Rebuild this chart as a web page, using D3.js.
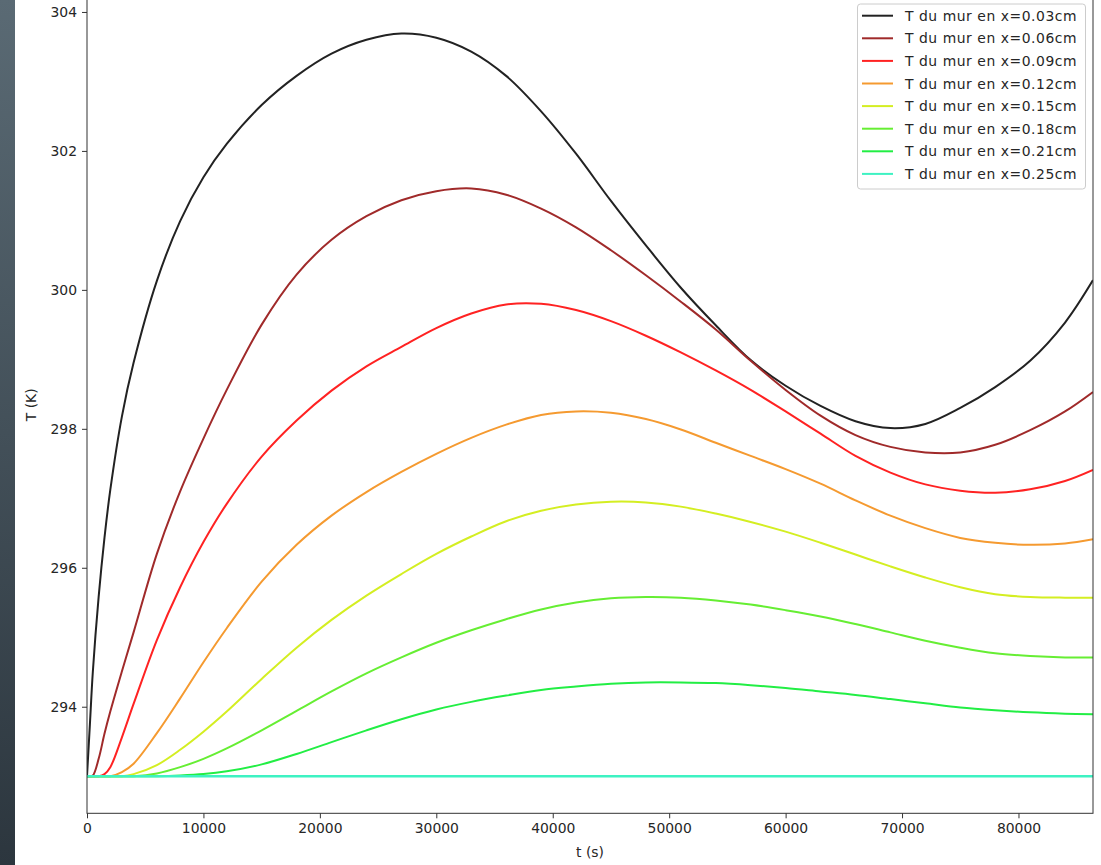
<!DOCTYPE html>
<html>
<head>
<meta charset="utf-8">
<script src="https://cdn.jsdelivr.net/npm/d3@7"></script>
<style>
  html, body { margin: 0; padding: 0; background: #ffffff; }
  svg { display: block; font-family: "DejaVu Sans", sans-serif; }
</style>
</head>
<body>
<script>
// Time samples (s) over one day
const times = [0, 250, 500, 1000, 1500, 2000, 3000, 4000, 6000, 8000, 10000, 12000, 15000, 18000,
  21000, 24000, 27000, 30000, 33000, 36000, 39000, 42000, 45000, 48000, 51000, 54000, 57000,
  60000, 63000, 66000, 69000, 72000, 75000, 78000, 81000, 84000, 86400];

// Wall temperature (K) at each depth
const T_003 = [293.00, 293.75, 294.50, 295.58, 296.43, 297.12, 298.18, 298.95, 300.13, 300.99, 301.62, 302.10,
  302.66, 303.08, 303.40, 303.60, 303.69, 303.63, 303.43, 303.08, 302.57, 301.96, 301.28, 300.64, 300.03,
  299.49, 298.99, 298.62, 298.33, 298.11, 298.01, 298.07, 298.30, 298.60, 298.98, 299.53, 300.14];
const T_006 = [293.00, 293.00, 293.01, 293.25, 293.61, 293.93, 294.51, 295.07, 296.20, 297.10, 297.86, 298.56,
  299.50, 300.22, 300.72, 301.06, 301.29, 301.42, 301.46, 301.37, 301.17, 300.90, 300.57, 300.21, 299.83,
  299.43, 298.98, 298.56, 298.19, 297.91, 297.74, 297.66, 297.66, 297.77, 297.98, 298.25, 298.53];
const T_009 = [293.00, 293.00, 293.00, 293.00, 293.03, 293.13, 293.56, 294.04, 294.96, 295.72, 296.37, 296.92,
  297.60, 298.12, 298.55, 298.90, 299.18, 299.45, 299.66, 299.79, 299.80, 299.71, 299.55, 299.34, 299.10,
  298.84, 298.56, 298.25, 297.93, 297.61, 297.37, 297.20, 297.11, 297.08, 297.13, 297.25, 297.41];
const T_012 = [293.00, 293.00, 293.00, 293.00, 293.00, 293.00, 293.06, 293.18, 293.62, 294.12, 294.64, 295.13,
  295.80, 296.33, 296.75, 297.09, 297.38, 297.64, 297.87, 298.06, 298.20, 298.25, 298.23, 298.14, 297.99,
  297.80, 297.61, 297.42, 297.21, 296.97, 296.75, 296.57, 296.43, 296.36, 296.33, 296.35, 296.41];
const T_015 = [293.00, 293.00, 293.00, 293.00, 293.00, 293.00, 293.00, 293.03, 293.16, 293.38, 293.64, 293.93,
  294.40, 294.85, 295.25, 295.60, 295.91, 296.20, 296.45, 296.67, 296.82, 296.91, 296.95, 296.94, 296.88,
  296.78, 296.66, 296.52, 296.36, 296.19, 296.02, 295.86, 295.72, 295.62, 295.58, 295.57, 295.57];
const T_018 = [293.00, 293.00, 293.00, 293.00, 293.00, 293.00, 293.00, 293.00, 293.04, 293.13, 293.25, 293.40,
  293.66, 293.94, 294.22, 294.48, 294.71, 294.92, 295.10, 295.26, 295.40, 295.50, 295.56, 295.58, 295.57,
  295.53, 295.47, 295.39, 295.30, 295.19, 295.07, 294.95, 294.85, 294.77, 294.73, 294.71, 294.71];
const T_021 = [293.00, 293.00, 293.00, 293.00, 293.00, 293.00, 293.00, 293.00, 293.00, 293.01, 293.03, 293.07,
  293.17, 293.32, 293.49, 293.66, 293.82, 293.96, 294.07, 294.16, 294.24, 294.29, 294.33, 294.35, 294.35,
  294.34, 294.31, 294.27, 294.22, 294.17, 294.11, 294.05, 293.99, 293.95, 293.92, 293.90, 293.89];
const T_025 = [293.00, 293.00, 293.00, 293.00, 293.00, 293.00, 293.00, 293.00, 293.00, 293.00, 293.00, 293.00,
  293.00, 293.00, 293.00, 293.00, 293.00, 293.00, 293.00, 293.00, 293.00, 293.00, 293.00, 293.00, 293.00,
  293.00, 293.00, 293.00, 293.00, 293.00, 293.00, 293.00, 293.00, 293.00, 293.00, 293.00, 293.00];

const seriesLabels = [
  "T du mur en x=0.03cm", "T du mur en x=0.06cm", "T du mur en x=0.09cm", "T du mur en x=0.12cm",
  "T du mur en x=0.15cm", "T du mur en x=0.18cm", "T du mur en x=0.21cm", "T du mur en x=0.25cm"
];
const seriesValues = [T_003, T_006, T_009, T_012, T_015, T_018, T_021, T_025];
const seriesColors = ["#222222", "#a02a2a", "#ff2222", "#f59a30", "#d4ee22", "#66ee33", "#22ee44", "#3ef2c2"];

const xTicks = [0, 10000, 20000, 30000, 40000, 50000, 60000, 70000, 80000];
const yTicks = [294, 296, 298, 300, 302, 304];
const xTitle = "t (s)";
const yTitle = "T (K)";

// ---- layout ----
const W = 1101, H = 865;
const plot = { left: 87, right: 1093, top: -3.6, bottom: 813.3 };
const FONT = 13.9;

const svg = d3.select("body").append("svg").attr("width", W).attr("height", H);

// dark side strip
const defs = svg.append("defs");
const grad = defs.append("linearGradient").attr("id", "strip").attr("x1", 0).attr("y1", 0).attr("x2", 0).attr("y2", 1);
grad.append("stop").attr("offset", "0%").attr("stop-color", "#5a6a74");
grad.append("stop").attr("offset", "100%").attr("stop-color", "#2c363e");
svg.append("rect").attr("x", 0).attr("y", 0).attr("width", 15).attr("height", H).attr("fill", "url(#strip)");

const x = d3.scaleLinear().domain([0, 86400]).range([plot.left, plot.right]);
const y = d3.scaleLinear().domain([292.466, 304.224]).range([plot.bottom, plot.top]);

// clip to axes
defs.append("clipPath").attr("id", "clip").append("rect")
  .attr("x", plot.left).attr("y", plot.top)
  .attr("width", plot.right - plot.left).attr("height", plot.bottom - plot.top);

const line = d3.line()
  .x((d, i) => x(times[i]))
  .y(d => y(d))
  .curve(d3.curveCatmullRom.alpha(0.5));

const gLines = svg.append("g").attr("clip-path", "url(#clip)");
seriesValues.forEach((vals, k) => {
  gLines.append("path")
    .attr("d", line(vals))
    .attr("fill", "none")
    .attr("stroke", seriesColors[k])
    .attr("stroke-width", k === 7 ? 2.6 : 2)
    .attr("stroke-linejoin", "round")
    .attr("stroke-linecap", "butt");
});

// spines
svg.append("rect")
  .attr("x", plot.left).attr("y", plot.top)
  .attr("width", plot.right - plot.left).attr("height", plot.bottom - plot.top)
  .attr("fill", "none").attr("stroke", "#333").attr("stroke-width", 1);

// axes
const xAxis = d3.axisBottom(x).tickValues(xTicks).tickFormat(d3.format("d")).tickSize(5).tickPadding(5);
const yAxis = d3.axisLeft(y).tickValues(yTicks).tickFormat(d3.format("d")).tickSize(5).tickPadding(5);

const gx = svg.append("g").attr("transform", `translate(0,${plot.bottom})`).call(xAxis);
const gy = svg.append("g").attr("transform", `translate(${plot.left},0)`).call(yAxis);
[gx, gy].forEach(g => {
  g.select(".domain").remove();
  g.selectAll(".tick line").attr("stroke", "#333");
  g.selectAll(".tick text").attr("fill", "#262626").style("font-size", FONT + "px")
    .style("font-family", "'DejaVu Sans', sans-serif");
});

// axis titles
svg.append("text")
  .attr("x", (plot.left + plot.right) / 2).attr("y", 857)
  .attr("text-anchor", "middle").attr("fill", "#262626")
  .style("font-size", FONT + "px").text(xTitle);
svg.append("text")
  .attr("transform", `translate(36,${(plot.top + plot.bottom) / 2}) rotate(-90)`)
  .attr("text-anchor", "middle").attr("fill", "#262626")
  .style("font-size", FONT + "px").text(yTitle);

// legend
const leg = svg.append("g");
const legBox = { x: 857.5, y: 4, w: 228, h: 185 };
leg.append("rect")
  .attr("x", legBox.x).attr("y", legBox.y).attr("width", legBox.w).attr("height", legBox.h)
  .attr("rx", 3).attr("ry", 3)
  .attr("fill", "rgba(255,255,255,0.8)").attr("stroke", "#cccccc").attr("stroke-width", 1);
const rowStep = 22.6, row0 = 15.7;
seriesLabels.forEach((lab, k) => {
  const cy = row0 + k * rowStep;
  leg.append("line")
    .attr("x1", 862).attr("x2", 893).attr("y1", cy).attr("y2", cy)
    .attr("stroke", seriesColors[k]).attr("stroke-width", 2);
  leg.append("text")
    .attr("x", 905).attr("y", cy + 5)
    .attr("fill", "#262626").style("font-size", FONT + "px")
    .style("letter-spacing", "0.55px")
    .text(lab);
});
</script>
</body>
</html>
